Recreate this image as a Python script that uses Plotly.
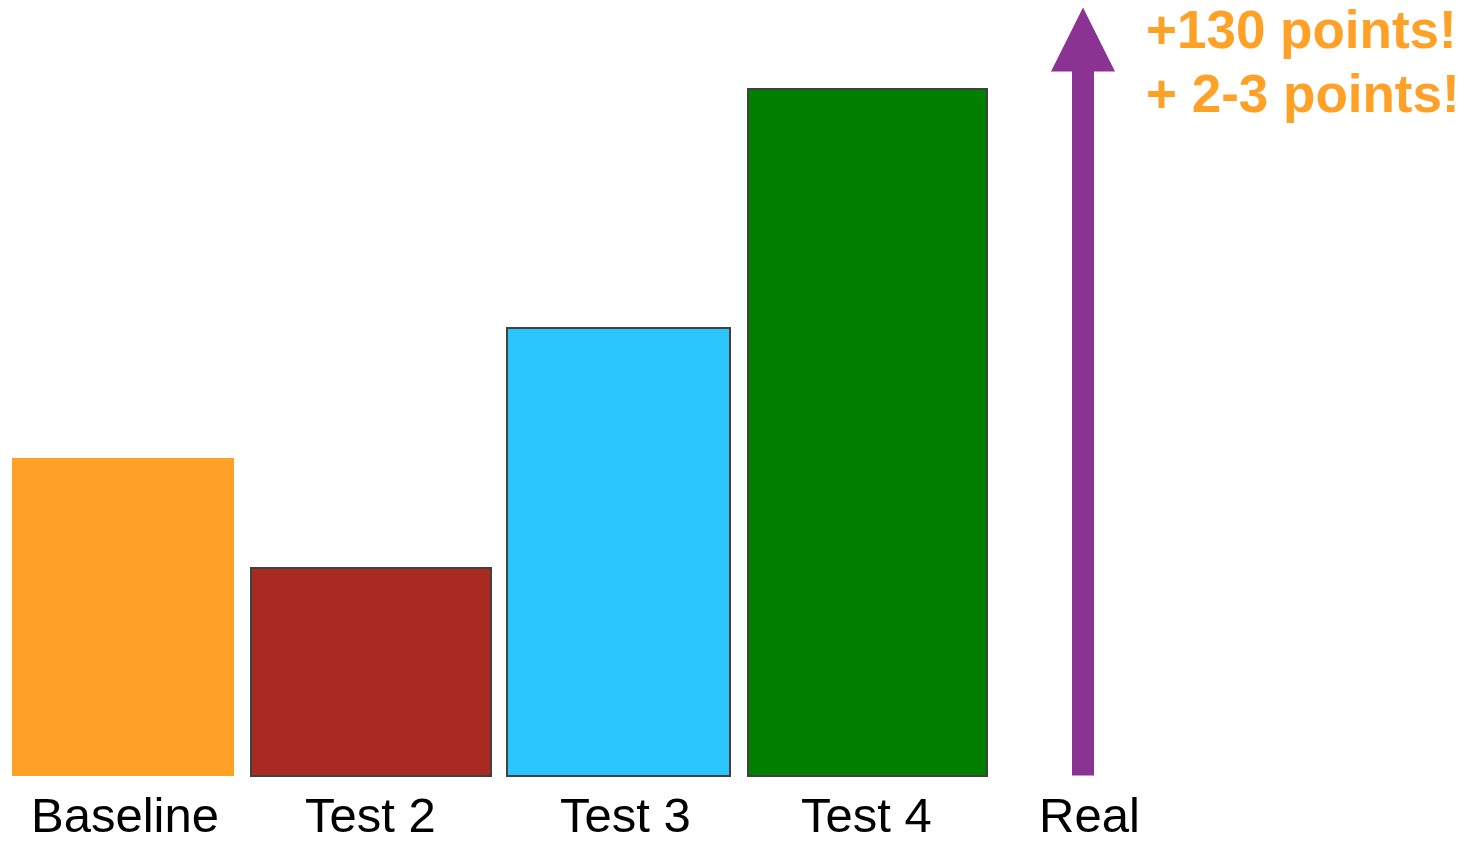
import plotly.graph_objects as go

# ---- data ----
categories = ["Baseline", "Test 2", "Test 3", "Test 4"]
values = [318, 208, 448, 687]
arrow_label = "Real"
arrow_value = 768
notes = ["+130 points!", "+ 2-3 points!"]

# ---- styles / layout ----
bar_centers = [123, 371, 618.5, 867.5]
bar_widths = [222, 240, 223, 239]
bar_colors = ["#FFA126", "#A92A20", "#2BC6FE", "#007F00"]
bar_line_w = [0, 2, 2, 2]
arrow_x = 1083
arrow_color = "#8B3392"
shaft_half = 11
head_half = 32
head_h = 64
label_x = [125, 370, 625, 866]
FONT = "Liberation Sans, Arial, sans-serif"

fig = go.Figure()
fig.add_trace(go.Bar(
    x=bar_centers, y=values, width=bar_widths,
    marker=dict(color=bar_colors, line=dict(color="#404040", width=bar_line_w)),
    hoverinfo="skip", showlegend=False,
))

# arrow built from its value
tip = arrow_value
hb = tip - head_h
ax_pts = [arrow_x - shaft_half, arrow_x - shaft_half, arrow_x - head_half, arrow_x,
          arrow_x + head_half, arrow_x + shaft_half, arrow_x + shaft_half, arrow_x - shaft_half]
ay_pts = [0, hb, hb, tip, hb, hb, 0, 0]
fig.add_trace(go.Scatter(
    x=ax_pts, y=ay_pts, mode="lines", fill="toself", fillcolor=arrow_color,
    line=dict(color=arrow_color, width=0), hoverinfo="skip", showlegend=False,
))

annotations = []
for cx, name in zip(label_x, categories):
    annotations.append(dict(x=cx, y=-39, text=name, showarrow=False,
                            font=dict(family=FONT, size=49, color="black"),
                            xanchor="center", yanchor="middle"))
annotations.append(dict(x=1089, y=-39.5, text=arrow_label, showarrow=False,
                        font=dict(family=FONT, size=49, color="black"),
                        xanchor="center", yanchor="middle"))
for i, t in enumerate(notes):
    annotations.append(dict(x=1144, y=746 - 64 * i, text="<b>" + t + "</b>", showarrow=False,
                            font=dict(family=FONT, size=53, color="#FFA126"),
                            xanchor="left", yanchor="middle"))

fig.update_layout(
    width=1476, height=843,
    margin=dict(l=0, r=0, t=0, b=0),
    paper_bgcolor="white", plot_bgcolor="white",
    xaxis=dict(range=[0, 1476], visible=False, fixedrange=True),
    yaxis=dict(range=[-67.5, 775.5], visible=False, fixedrange=True),
    annotations=annotations,
    bargap=0,
)
fig.write_html("out.html")
